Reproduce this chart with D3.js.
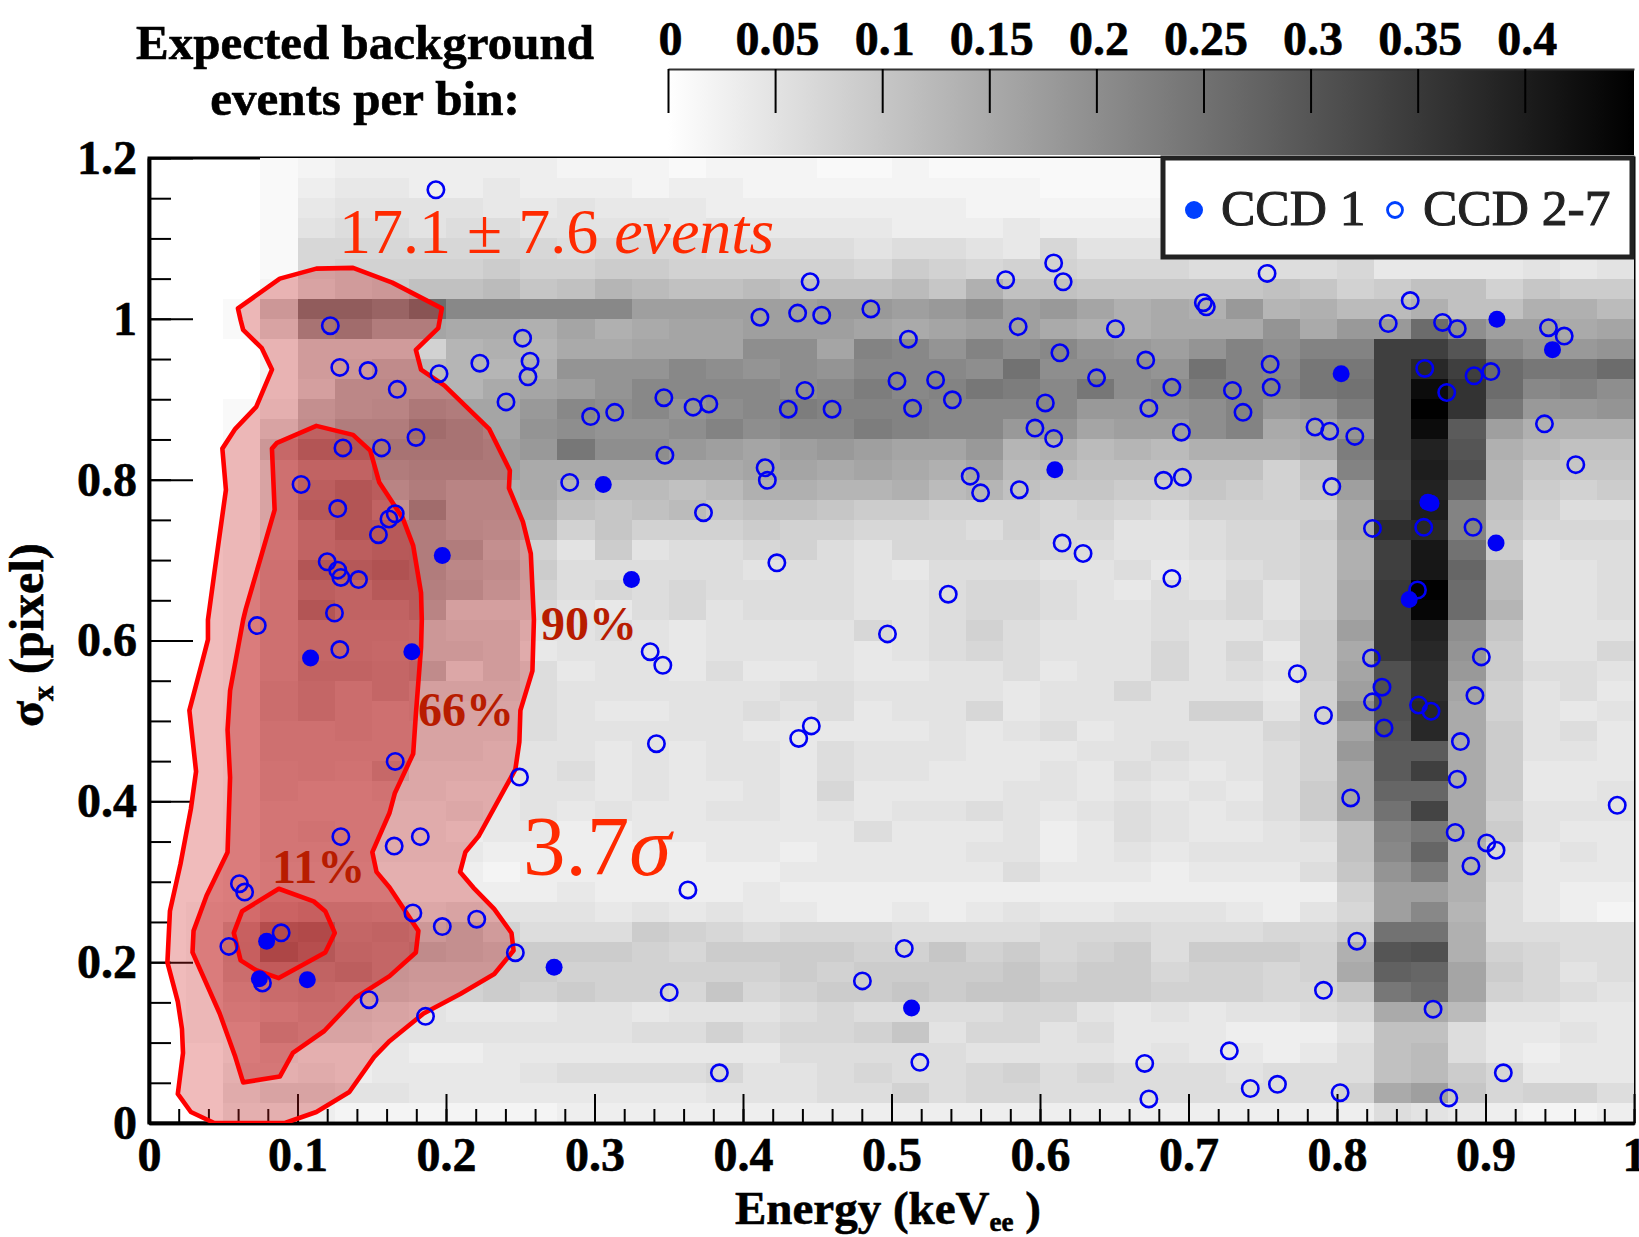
<!DOCTYPE html>
<html lang="en">

<head>
    <meta charset="UTF-8">
    <title>Expected background</title>
    <script src="https://d3js.org/d3.v7.min.js"></script>
    <style>
        html, body { margin: 0; padding: 0; background: #fff; overflow: hidden; }
        svg { display: block; }
        text { font-family: "Liberation Serif", serif; }
        .axis text { font-size: 48px; font-weight: bold; fill: #000; stroke: #000; stroke-width: 0.6px; }
    </style>
</head>

<body>
    <svg id="chart" width="1639" height="1237"></svg>
    <script>
        // bins: 40 in energy, 48 in sigma, first row is the top one, values are events per bin x 100
        const binE = 0.025, binS = 0.025;
        const heatRows = [
            [0,0,0,1,2,3,3,3,3,3,3,2,2,2,1,2,2,2,1,1,2,1,1,1,1,1,1,1,1,1,1,1,1,1,1,1,1,1,1,1],
            [0,0,0,1,3,4,4,3,3,4,3,3,3,2,3,3,2,2,2,2,2,2,2,2,1,1,1,1,1,1,1,1,1,1,1,1,1,1,1,1],
            [0,0,0,1,4,5,5,5,5,4,4,5,4,4,4,3,3,3,3,3,3,3,2,2,2,2,2,2,2,2,2,2,2,2,2,2,2,2,2,2],
            [0,0,0,1,5,6,6,5,6,6,5,5,5,5,4,5,4,4,4,4,3,3,3,4,3,3,3,3,3,3,3,3,3,3,3,3,3,3,3,3],
            [0,0,0,1,7,7,7,7,7,7,7,6,7,7,7,6,6,6,6,5,6,6,5,4,7,5,5,5,5,5,5,5,5,4,4,4,4,4,4,4],
            [0,0,0,1,7,8,8,8,8,9,8,8,9,9,8,8,8,8,8,7,9,8,7,8,8,7,7,7,6,6,6,6,7,4,4,4,4,5,4,5],
            [0,0,0,2,6,8,9,11,11,12,10,11,13,12,11,11,12,11,11,11,12,10,14,11,11,10,10,10,10,10,11,10,8,9,11,11,8,10,9,9],
            [0,0,1,9,24,24,22,26,21,21,21,21,21,17,17,17,17,17,18,18,17,18,20,17,18,16,14,15,14,18,13,14,12,12,14,11,11,14,14,12],
            [0,0,1,6,18,20,16,16,15,15,14,16,14,15,16,16,17,17,17,16,15,16,17,17,15,14,14,15,15,15,19,15,18,18,26,20,17,17,15,16],
            [0,0,0,2,8,8,8,8,13,14,13,15,15,16,16,16,20,20,16,22,21,19,22,20,21,19,18,17,19,22,20,22,22,34,34,30,21,19,18,19],
            [0,0,0,2,8,9,12,12,13,13,14,19,19,19,21,20,19,20,19,21,21,21,20,25,20,20,20,19,25,22,21,24,24,34,38,34,26,24,24,26],
            [0,0,0,2,7,13,13,13,13,15,16,17,19,21,21,21,21,20,21,23,21,22,24,23,21,24,20,21,23,22,22,24,25,34,43,36,26,21,22,20],
            [0,0,1,3,11,13,14,17,16,16,18,21,20,21,19,20,21,23,22,22,22,21,21,21,21,18,18,19,20,22,18,19,23,34,45,36,24,18,18,19],
            [0,0,1,6,12,16,16,20,18,16,19,20,19,19,20,22,20,21,21,23,22,21,21,18,19,16,17,17,20,22,15,16,19,34,43,29,17,14,14,14],
            [0,0,1,9,17,17,18,18,18,17,18,24,20,20,18,17,16,17,18,17,16,16,18,13,14,12,13,12,14,14,14,15,23,34,39,30,14,12,11,11],
            [0,0,1,6,11,11,16,17,17,17,15,15,15,15,15,15,16,16,15,16,15,14,16,12,12,11,11,11,11,11,8,11,22,33,40,31,13,10,10,10],
            [0,0,1,6,13,17,14,16,14,14,15,13,12,12,11,12,14,14,13,13,14,12,13,11,10,10,9,9,10,9,8,10,17,33,39,27,13,9,8,9],
            [0,0,1,6,15,17,11,20,14,14,14,11,10,11,12,10,11,11,10,9,9,8,8,8,7,8,7,6,8,8,8,8,15,34,40,22,11,8,6,6],
            [0,0,1,5,11,17,15,16,14,13,12,8,10,8,8,8,9,8,8,7,7,7,6,8,7,7,5,5,6,7,7,9,15,37,38,22,10,7,7,7],
            [0,0,1,5,11,13,15,16,16,11,8,5,9,5,6,6,7,8,6,5,7,7,7,7,7,6,5,5,6,7,7,8,14,34,41,25,9,5,6,6],
            [0,0,1,6,17,16,18,16,13,12,9,6,6,6,6,6,5,6,6,5,4,6,6,6,5,5,6,4,5,6,7,8,14,34,41,27,12,5,5,6],
            [0,0,1,6,13,11,15,15,14,11,8,6,7,6,7,6,6,6,6,5,5,6,7,7,6,5,4,6,5,7,5,8,15,35,45,26,12,5,5,6],
            [0,0,1,6,17,11,11,14,7,7,7,5,4,6,7,5,6,6,6,5,5,6,7,7,6,5,5,6,6,7,5,8,15,35,44,26,13,5,5,6],
            [0,0,1,6,10,10,10,9,8,8,5,5,6,5,4,5,5,5,5,7,5,6,8,6,5,5,5,6,5,5,6,9,17,35,39,20,10,5,5,5],
            [0,0,1,6,10,10,9,9,9,8,4,5,5,5,4,5,5,5,5,4,5,6,7,6,5,5,5,7,5,7,4,9,15,35,38,19,9,5,5,7],
            [0,0,1,6,11,11,10,12,5,8,6,4,5,5,4,6,4,4,5,4,4,5,5,6,4,5,5,7,5,6,5,9,16,31,37,18,9,6,6,5],
            [0,0,1,7,10,7,10,7,7,7,6,5,5,5,5,5,5,6,6,5,5,5,5,4,5,5,7,5,5,5,4,8,17,31,37,16,8,5,6,4],
            [0,0,1,7,10,7,6,7,6,6,6,5,4,4,5,5,6,5,6,4,5,5,7,4,5,5,5,5,8,8,5,8,20,31,38,15,8,5,4,5],
            [0,0,1,6,6,7,6,6,6,6,6,5,5,5,5,5,4,4,4,4,4,5,4,5,6,4,5,5,5,5,7,8,16,30,38,15,9,5,6,4],
            [0,0,1,6,6,6,6,6,6,5,5,5,4,5,4,5,5,4,6,5,5,5,4,4,4,5,5,6,5,5,6,8,18,29,29,15,9,5,5,4],
            [0,0,1,5,6,5,9,5,5,5,5,6,4,5,4,5,5,4,6,5,5,4,4,4,5,4,6,5,4,5,6,8,16,29,34,15,9,4,4,4],
            [0,0,1,5,4,4,5,5,4,4,5,5,4,5,4,4,5,4,7,4,4,4,4,5,5,4,5,4,5,4,6,9,16,27,27,15,9,4,4,5],
            [0,0,1,4,4,4,4,4,5,4,5,4,5,4,4,5,5,4,5,4,5,5,6,5,4,5,6,5,4,5,6,9,16,25,33,15,8,5,5,5],
            [0,0,1,4,5,4,4,4,3,4,4,3,3,4,4,4,4,4,4,6,4,4,4,5,3,4,6,5,4,4,5,6,11,22,24,15,9,5,4,4],
            [0,0,1,4,4,4,4,4,4,3,3,3,3,3,3,4,4,3,4,4,4,4,5,5,3,4,5,4,5,5,5,5,11,21,27,14,7,4,5,4],
            [0,0,1,3,3,3,3,3,3,2,3,3,3,3,3,3,3,4,4,4,4,4,4,6,4,4,4,3,4,4,4,6,10,19,23,14,7,4,4,4],
            [0,0,1,3,3,3,3,3,3,3,3,4,3,3,3,3,4,3,3,3,3,3,3,3,3,3,3,3,3,3,3,3,8,17,17,14,6,4,3,3],
            [0,1,2,6,8,8,7,5,6,5,5,5,4,5,4,5,4,4,3,3,4,3,4,5,4,4,5,5,5,4,3,5,7,17,21,13,6,4,3,2],
            [0,1,7,17,18,10,11,9,11,8,6,6,6,9,8,7,6,7,7,7,6,6,6,6,7,7,7,6,6,6,7,7,9,25,25,14,6,6,6,6],
            [0,1,8,20,16,11,10,12,11,10,9,9,9,8,7,9,9,9,9,8,8,10,8,9,7,8,9,6,9,9,9,8,14,30,31,14,8,7,6,6],
            [0,1,7,10,11,13,10,9,9,9,9,8,8,8,8,8,8,9,8,9,9,9,9,10,8,9,9,7,8,8,7,8,15,28,27,16,9,7,5,6],
            [0,1,5,8,9,8,9,8,8,9,8,9,8,8,7,10,7,8,9,9,10,9,10,10,9,9,9,8,8,8,7,7,10,24,26,16,8,7,6,5],
            [0,1,4,5,7,7,6,5,4,4,4,5,5,4,5,5,5,6,7,6,6,6,6,7,7,5,4,5,4,5,5,6,7,15,15,12,5,5,4,4],
            [0,1,2,8,6,6,5,5,5,5,5,5,5,6,6,8,6,7,7,8,10,5,7,7,5,6,4,4,4,3,3,3,5,11,11,6,4,4,5,4],
            [0,0,2,4,3,3,4,3,3,4,4,4,4,4,4,4,4,6,6,6,6,6,5,5,5,5,4,5,4,4,3,4,6,11,12,6,4,3,4,4],
            [0,0,3,3,4,3,4,4,4,4,5,6,6,6,6,7,5,5,6,7,6,6,7,8,6,7,6,6,6,5,6,6,6,11,12,9,7,4,4,4],
            [0,0,4,6,6,5,5,4,4,4,4,4,4,4,4,5,5,5,6,6,8,6,7,7,6,6,6,6,6,6,6,6,8,15,17,10,7,8,8,6],
            [0,0,3,3,3,2,2,2,2,2,2,3,3,3,3,3,3,3,3,3,3,3,3,3,3,3,3,3,3,3,3,3,3,6,5,4,3,2,2,3]
        ];

        // CCD 2-7, open markers
        const ccd27Energy = [
            .1932,.1221,.1285,.1475,.1672,.1953,.2228,.2516,.2566,.2552,.2404,.1798,.1566,.1306,.1024,.1271,.1658,.1616,.1545,.1200,
            .1271,.1292,.1411,.1249,.1285,.0729,.1658,.1292,.1651,.1827,.0609,.0644,.1777,.1975,.2207,.2467,.0890,.0538,.0764,.1482,
            .1862,.2495,.2833,.2974,.3136,.3467,.3664,.3770,.3474,.3734,.4149,.4164,.4228,.3375,.3460,.3417,.3629,.3503,.3841,.4114,
            .4368,.4530,.4452,.4861,.4305,.4417,.4600,.5037,.5114,.5142,.5297,.5410,.5530,.5600,.5861,.5769,.5853,.6036,.5966,.6092,
            .6134,.6092,.6156,.6381,.6508,.6712,.6733,.6888,.6952,.6832,.6959,.6149,.6290,.6888,.7100,.7120,.7296,.7367,.7529,.7550,
            .7557,.7852,.7951,.8120,.7965,.8239,.8345,.8493,.8591,.8739,.8711,.8810,.8923,.9036,.9424,.9530,.9397,.9608,.8584,.8916,
            .8542,.8232,.8303,.8239,.8549,.8633,.8972,.8929,.8317,.8831,.8810,.8092,.8796,.9008,.9071,.8902,.9887,.7733,.7909,.8134,
            .7909,.8647,.7275,.6705,.6733,.7416,.7599,.8021,.8753,.9120,.4973,.5382,.4375,.4460,.4804,.5086,.5191
        ];
        const ccd27Sigma = [
            1.1605,.9915,.9396,.9357,.9123,.9318,.9448,.9760,.9474,.9279,.8967,.8525,.8395,.8395,.7940,.7641,.7576,.7511,.7316,.6979,
            .6875,.6784,.6758,.6342,.5887,.6186,.4496,.3561,.3444,.3561,.2976,.2872,.2612,.2443,.2534,.2118,.2365,.2196,.1741,.1533,
            .1326,.4302,.7966,.8785,.8837,.9019,.8902,.8941,.8304,.7589,.8148,.7992,.6966,.5861,.5692,.4717,.2898,.1624,.0624,1.0020,
            1.0071,1.0045,1.0461,1.0123,.8876,.9110,.8876,.9227,.9747,.8889,.9240,.8993,.8044,.7836,.7875,1.0487,.9903,.8954,.8642,.8512,
            .9578,1.0695,1.0461,.9266,.9877,.9487,.8889,.9149,.8590,.7992,.8031,.7212,.7082,.6771,1.0201,1.0149,.9110,.8837,1.0565,.9435,
            .9149,.8655,.8603,.8538,.7914,.7394,.9942,1.0227,.9383,.9084,.9955,.9877,.9292,.9344,.9890,.9786,.8694,.8187,.7407,.7407,
            .6628,.5783,.5419,.5237,.5198,.5120,.5796,.5315,.4912,.4743,.4276,.4042,.3613,.3483,.3392,.3197,.3951,.5588,.5068,.2261,
            .1650,.1416,.0897,.0741,.0299,.0429,.0481,.0377,.0312,.0624,.6082,.6576,.4782,.4938,.1767,.2170,.0754
        ];

        // CCD 1, filled markers
        const ccd1Energy = [.3059,.3249,.1975,.1088,.1770,.0792,.0743,.1066,.2728,.5135,.6100,.8028,.9077,.9451,.8633,.8612,.9071,.8486];
        const ccd1Sigma = [.7940,.6758,.7056,.5783,.5861,.2261,.1793,.1780,.1936,.1429,.8122,.9318,.9994,.9617,.7706,.7719,.7212,.6511];

        const contour90 = [
            [.0599,1.013],[.0881,1.050],[.1127,1.0624],[.1374,1.0634],[.1638,1.045],[.1972,1.013],[.1948,.9885],[.1797,.9615],[.1832,.9369],
            [.199,.917],[.229,.8632],[.243,.8115],[.2424,.7895],[.2518,.7475],[.2571,.708],[.2592,.6256],[.2582,.5622],[.2501,.5131],[.2494,.4739],
            [.2467,.4397],[.2395,.4154],[.2219,.3565],[.2131,.3371],[.2095,.3122],[.2184,.2928],[.2324,.2662],[.2441,.2363],[.2455,.2144],[.2325,.1853],
            [.2096,.1604],[.1849,.1362],[.1621,.102],[.1515,.082],[.1349,.0386],[.1127,.0137],[.0916,0],[.044,0],[.0282,.0137],[.0194,.0361],
            [.0229,.0871],[.0222,.1169],[.0194,.1509],[.0124,.1998],[.0141,.2637],[.0212,.3221],[.0282,.3906],[.0317,.4372],[.0272,.5131],[.0353,.5697],
            [.0397,.6011],[.0397,.6256],[.044,.684],[.0518,.7873],[.0494,.8386],[.0581,.8632],[.0722,.8905],[.0828,.9369],[.0758,.9639],[.0634,.9863],[.0617,.9984]
        ];
        const contour66 = [
            [.0828,.8386],[.0862,.8458],[.1127,.8669],[.1374,.8557],[.149,.8361],[.155,.7968],[.1708,.7525],[.1779,.718],[.1832,.6592],[.1837,.6256],
            [.1832,.5914],[.1797,.508],[.1779,.4592],[.1656,.4104],[.162,.3858],[.1504,.3368],[.1532,.3123],[.162,.2928],[.1814,.2389],[.1797,.2121],
            [.162,.1826],[.1391,.1557],[.118,.1144],[.0969,.0871],[.0881,.0578],[.0634,.0505],[.0581,.0823],[.0476,.1362],[.0293,.2121],[.03,.2389],
            [.0388,.283],[.0529,.3368],[.0546,.4298],[.0529,.4888],[.0546,.5376],[.0634,.6256],[.0652,.6393],[.0846,.7624]
        ];
        const contour11 = [
            [.0874,.2913],[.1109,.2756],[.1187,.2634],[.1251,.2364],[.1187,.2121],[.0874,.1802],[.0722,.1899],[.0617,.2022],[.0571,.2364],[.0627,.2634]
        ];

        const energyTicks = [0, 0.1, 0.2, 0.3, 0.4, 0.5, 0.6, 0.7, 0.8, 0.9, 1];
        const sigmaTicks = [0, 0.2, 0.4, 0.6, 0.8, 1, 1.2];
        const scaleTicks = [0, 0.05, 0.1, 0.15, 0.2, 0.25, 0.3, 0.35, 0.4];

        const svg = d3.select("#chart");
        const plotLeft = 149, plotRight = 1634, plotTop = 158, plotBottom = 1123;

        const x = d3.scaleLinear().domain([0, 1]).range([plotLeft, plotRight]);
        const y = d3.scaleLinear().domain([0, 1.2]).range([plotBottom, plotTop]);
        const zScale = d3.scaleLinear().domain([0, 0.451]).range([668, 1634]);
        const gray = d3.scaleLinear().domain([0, 0.451]).range(["#ffffff", "#000000"]);

        const defs = svg.append("defs");
        defs.append("clipPath").attr("id", "plotClip").append("rect")
            .attr("x", plotLeft).attr("y", plotTop).attr("width", plotRight - plotLeft).attr("height", plotBottom - plotTop);

        const grad = defs.append("linearGradient").attr("id", "zGrad");
        grad.append("stop").attr("offset", "0%").attr("stop-color", "#fff");
        grad.append("stop").attr("offset", "100%").attr("stop-color", "#000");

        // colour bar
        svg.append("rect")
            .attr("x", zScale(0)).attr("y", 69)
            .attr("width", zScale(0.451) - zScale(0)).attr("height", 86)
            .attr("fill", "url(#zGrad)");

        const zAxis = svg.append("g").attr("class", "axis").attr("transform", "translate(0,69)")
            .call(d3.axisTop(zScale).tickValues(scaleTicks).tickFormat(d => d).tickSize(-44).tickSizeOuter(0).tickPadding(14));
        zAxis.selectAll("line").attr("stroke", "#000").attr("stroke-width", 2);
        zAxis.select(".domain").attr("stroke", "#333").attr("stroke-width", 2);
        zAxis.selectAll("text").attr("dx", 2);

        const titleLines = ["Expected background", "events per bin:"];
        svg.selectAll("text.title").data(titleLines).enter().append("text")
            .attr("class", "title")
            .attr("x", 365)
            .attr("y", (d, i) => 59 + i * 56)
            .attr("text-anchor", "middle")
            .attr("font-size", 49)
            .attr("font-weight", "bold")
            .attr("stroke", "#000").attr("stroke-width", 0.6)
            .text(d => d);

        // frame goes under the bins, empty bins leave it thick
        svg.append("rect")
            .attr("x", plotLeft).attr("y", plotTop).attr("width", plotRight - plotLeft).attr("height", plotBottom - plotTop)
            .attr("fill", "none").attr("stroke", "#000").attr("stroke-width", 3);

        const cells = [];
        heatRows.forEach((row, r) => {
            row.forEach((v, c) => {
                if (v > 0) cells.push({ e: c * binE, s: 1.2 - (r + 1) * binS, v: v / 100 });
            });
        });

        svg.append("g").selectAll("rect").data(cells).enter().append("rect")
            .attr("x", d => x(d.e))
            .attr("y", d => y(d.s + binS))
            .attr("width", d => x(d.e + binE) - x(d.e))
            .attr("height", d => y(d.s) - y(d.s + binS))
            .attr("fill", d => gray(d.v))
            .attr("shape-rendering", "crispEdges");

        // axes, the regions tint the ticks so these go first
        function styleAxis(g, width) {
            g.selectAll("line").attr("stroke", "#000").attr("stroke-width", width);
            g.select(".domain").attr("stroke", "#000").attr("stroke-width", 3.5);
        }

        svg.append("g").attr("transform", `translate(0,${plotBottom})`)
            .call(d3.axisBottom(x).tickValues(d3.range(0, 1.001, 0.02)).tickFormat("").tickSize(-14).tickSizeOuter(0))
            .call(styleAxis, 2);
        svg.append("g").attr("class", "axis").attr("transform", `translate(0,${plotBottom})`)
            .call(d3.axisBottom(x).tickValues(energyTicks).tickFormat(d => d).tickSize(-29).tickSizeOuter(0).tickPadding(14))
            .call(styleAxis, 2);
        svg.append("g").attr("transform", `translate(${plotLeft},0)`)
            .call(d3.axisLeft(y).tickValues(d3.range(0, 1.201, 0.05)).tickFormat("").tickSize(-22).tickSizeOuter(0))
            .call(styleAxis, 2);
        svg.append("g").attr("class", "axis").attr("transform", `translate(${plotLeft},0)`)
            .call(d3.axisLeft(y).tickValues(sigmaTicks).tickFormat(d => d).tickSize(-44).tickSizeOuter(0).tickPadding(12))
            .call(styleAxis, 2);

        // confidence regions
        const contourLine = d3.line().x(d => x(d[0])).y(d => y(d[1]));
        const regions = [
            { pts: contour90, fill: "rgb(205,30,30)", op: 0.3 },
            { pts: contour66, fill: "rgb(190,30,30)", op: 0.38 },
            { pts: contour11, fill: "rgb(190,30,30)", op: 0.15 }
        ];
        svg.append("g").attr("clip-path", "url(#plotClip)")
            .selectAll("path").data(regions).enter().append("path")
            .attr("d", d => contourLine(d.pts) + "Z")
            .attr("fill", d => d.fill)
            .attr("fill-opacity", d => d.op)
            .attr("stroke", "#ff0000")
            .attr("stroke-width", 4.6)
            .attr("stroke-linejoin", "round");

        // events
        svg.append("g").selectAll("circle").data(ccd27Energy).enter().append("circle")
            .attr("cx", d => x(d))
            .attr("cy", (d, i) => y(ccd27Sigma[i]))
            .attr("r", 8.2)
            .attr("fill", "none")
            .attr("stroke", "#0000f5")
            .attr("stroke-width", 2.6);

        svg.append("g").selectAll("circle").data(ccd1Energy).enter().append("circle")
            .attr("cx", d => x(d))
            .attr("cy", (d, i) => y(ccd1Sigma[i]))
            .attr("r", 8.5)
            .attr("fill", "#0000f5");

        // legend
        svg.append("rect")
            .attr("x", 1163).attr("y", 158).attr("width", 469).attr("height", 99)
            .attr("fill", "#fff").attr("stroke", "#222").attr("stroke-width", 5);
        svg.append("circle").attr("cx", 1194).attr("cy", 210).attr("r", 9).attr("fill", "#0040ff");
        svg.append("circle").attr("cx", 1395).attr("cy", 210).attr("r", 7.5)
            .attr("fill", "none").attr("stroke", "#0040ff").attr("stroke-width", 2.8);
        const legendText = [{ t: "CCD 1", px: 1221 }, { t: "CCD 2-7", px: 1423 }];
        svg.selectAll("text.legend").data(legendText).enter().append("text")
            .attr("class", "legend")
            .attr("x", d => d.px).attr("y", 225)
            .attr("font-size", 51.5)
            .attr("fill", "#222").attr("stroke", "#222").attr("stroke-width", 1)
            .text(d => d.t);

        // annotations
        const events = svg.append("text").attr("x", 339).attr("y", 253)
            .attr("font-size", 64).attr("fill", "#ff2a00");
        events.append("tspan").text("17.1 ± 7.6 ");
        events.append("tspan").attr("font-style", "italic").text("events");

        const signif = svg.append("text").attr("x", 523).attr("y", 875)
            .attr("font-size", 85).attr("fill", "#ff2a00");
        signif.append("tspan").text("3.7");
        signif.append("tspan").attr("font-style", "italic").text("σ");

        const levelLabels = [
            { t: "90%", px: 541, py: 640 },
            { t: "66%", px: 418, py: 726 },
            { t: "11%", px: 272, py: 883 }
        ];
        svg.selectAll("text.level").data(levelLabels).enter().append("text")
            .attr("class", "level")
            .attr("x", d => d.px).attr("y", d => d.py)
            .attr("font-size", 48).attr("font-weight", "bold").attr("fill", "#b81c00")
            .text(d => d.t);

        // axis titles
        const xTitle = svg.append("text").attr("x", 735).attr("y", 1224)
            .attr("font-size", 47).attr("font-weight", "bold")
            .attr("stroke", "#000").attr("stroke-width", 0.6);
        xTitle.append("tspan").text("Energy (keV");
        xTitle.append("tspan").attr("font-size", 27).attr("dy", 7).text("ee");
        xTitle.append("tspan").attr("dy", -7).text(" )");

        const yTitle = svg.append("text").attr("transform", "translate(43,727) rotate(-90)")
            .attr("font-size", 48).attr("font-weight", "bold")
            .attr("stroke", "#000").attr("stroke-width", 0.6);
        yTitle.append("tspan").text("σ");
        yTitle.append("tspan").attr("font-size", 30).attr("dy", 10).text("x");
        yTitle.append("tspan").attr("dy", -10).text(" (pixel)");
    </script>
</body>

</html>
